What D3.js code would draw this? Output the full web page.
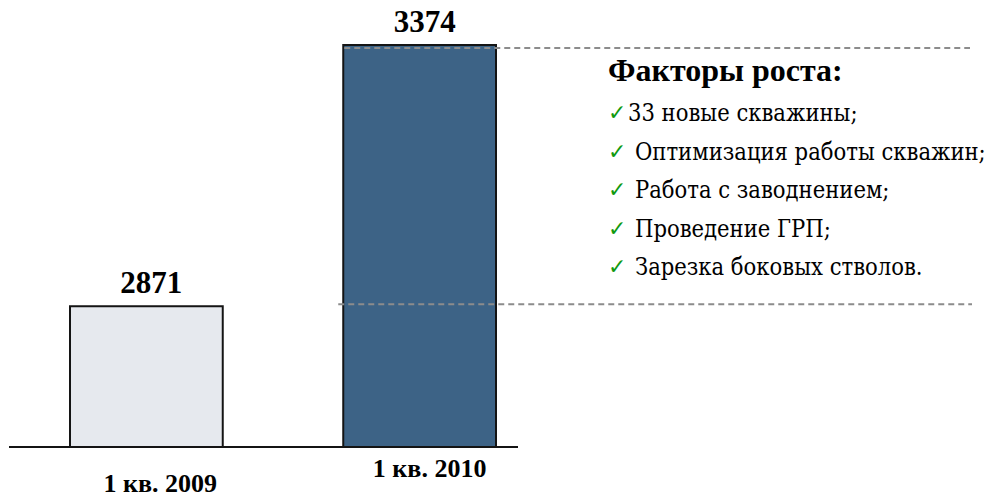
<!DOCTYPE html>
<html>
<head>
<meta charset="utf-8">
<script src="https://cdn.jsdelivr.net/npm/d3@7"></script>
<style>
  body { margin: 0; background: #fff; }
  svg text { font-family: "Liberation Serif", "Times New Roman", serif; }
</style>
</head>
<body>
<div id="chart"></div>
<script>
// Data
var categories = ["1 кв. 2009", "1 кв. 2010"];
var values = [2871, 3374];
var barColors = ["#e6e9ee", "#3d6386"];
var factorsTitle = "Факторы роста:";
var factors = [
   "33 новые скважины;",
   "Оптимизация работы скважин;",
   "Работа с заводнением;",
   "Проведение ГРП;",
   "Зарезка боковых стволов."
];
var factorIndent = [20, 27, 27, 27, 27];

var width = 989, height = 498;

var svg = d3.select("#chart")
   .append("svg")
   .attr("width", width)
   .attr("height", height);

// Scales (value axis does not start at zero)
var x = d3.scaleBand()
   .domain(categories)
   .range([70, 496])
   .paddingInner(0.441)
   .paddingOuter(0);

var y = d3.scaleLinear()
   .domain([2600, 3374])
   .range([447, 45]);

var dash = function (sel) {
   sel.style("stroke", "#8c8c8c")
      .style("stroke-width", 2)
      .style("stroke-dasharray", "6,4");
};

// Bars
svg.selectAll(".bar")
   .data(values)
   .enter().append("rect")
   .attr("class", "bar")
   .attr("x", function (d, i) { return x(categories[i]); })
   .attr("y", function (d) { return y(d); })
   .attr("width", x.bandwidth())
   .attr("height", function (d) { return y(2600) - y(d); })
   .style("fill", function (d, i) { return barColors[i]; })
   .style("stroke", "#141414")
   .style("stroke-width", 2);

// Dashed guide lines at the two levels
svg.append("line")
   .attr("x1", x(categories[1]) + 1)
   .attr("x2", 970)
   .attr("y1", y(values[1]) + 3)
   .attr("y2", y(values[1]) + 3)
   .call(dash);

svg.append("line")
   .attr("x1", x(categories[1]) - 5)
   .attr("x2", 972)
   .attr("y1", y(values[0]) - 2)
   .attr("y2", y(values[0]) - 2)
   .call(dash);

// Baseline
svg.append("line")
   .attr("x1", 9)
   .attr("x2", 518)
   .attr("y1", y(2600))
   .attr("y2", y(2600))
   .style("stroke", "#141414")
   .style("stroke-width", 2);

// Value labels
svg.selectAll(".value")
   .data(values)
   .enter().append("text")
   .attr("class", "value")
   .attr("x", function (d, i) { return x(categories[i]) + x.bandwidth() / 2 + 5; })
   .attr("y", function (d) { return y(d) - 13; })
   .attr("text-anchor", "middle")
   .style("font-size", "31px")
   .style("font-weight", "bold")
   .text(function (d) { return d; });

// Category labels (slightly staggered as in the original)
var catDx = [14, 10], catDy = [45, 30];
svg.selectAll(".cat")
   .data(categories)
   .enter().append("text")
   .attr("class", "cat")
   .attr("x", function (d, i) { return x(d) + x.bandwidth() / 2 + catDx[i]; })
   .attr("y", function (d, i) { return y(2600) + catDy[i]; })
   .attr("text-anchor", "middle")
   .style("font-size", "26px")
   .style("font-weight", "bold")
   .text(function (d) { return d; });

// Growth factors block
svg.append("text")
   .attr("x", 608)
   .attr("y", 81)
   .style("font-size", "32px")
   .style("font-weight", "bold")
   .text(factorsTitle);

var rows = svg.selectAll(".factor")
   .data(factors)
   .enter().append("g")
   .attr("class", "factor")
   .attr("transform", function (d, i) { return "translate(608," + (121 + i * 38.6) + ")"; });

rows.append("text")
   .attr("x", 0)
   .attr("y", -1)
   .style("font-family", "DejaVu Sans, sans-serif")
   .style("font-size", "22px")
   .style("fill", "#109a10")
   .text("\u2713");

rows.append("text")
   .attr("x", function (d, i) { return factorIndent[i]; })
   .style("font-family", "'DejaVu Serif', serif")
   .style("font-stretch", "condensed")
   .style("font-size", "23.5px")
   .text(function (d) { return d; });
</script>
</body>
</html>
